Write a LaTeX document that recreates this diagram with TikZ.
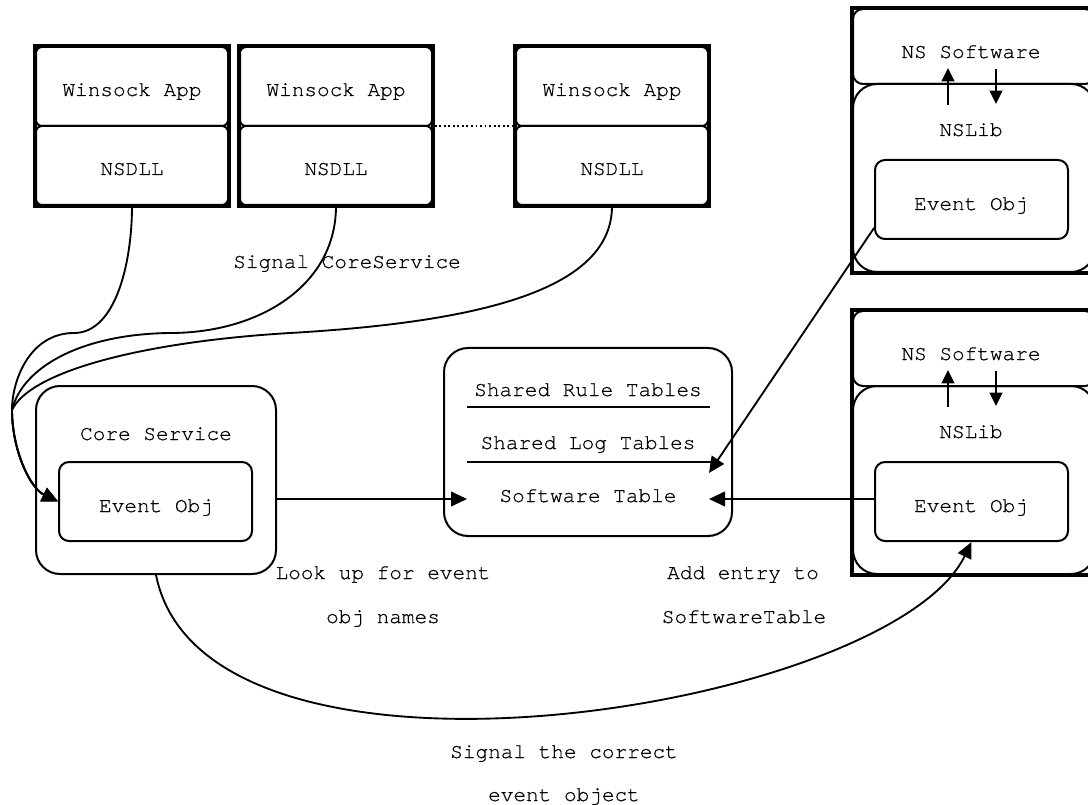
\documentclass[tikz,border=0pt]{standalone}
\usepackage{fontspec}
\setmainfont{texgyrecursor}[Extension=.otf,UprightFont=*-regular,BoldFont=*-bold,FakeBold=0.6]
\usetikzlibrary{arrows.meta,fit,calc}
\begin{document}
\begin{tikzpicture}[x=0.75pt,y=-0.75pt,
  every node/.style={font=\fontsize{15.8}{20}\selectfont},
  lbl/.style={anchor=base,inner sep=0},
  frame/.style={draw,line width=2.6pt,inner sep=0},
  sbox/.style={draw,line width=1.5pt,rounded corners=4.5pt,inner sep=0},
  ibox/.style={draw,line width=1.5pt,rounded corners=7.5pt,inner sep=0},
  bbox/.style={draw,line width=1.5pt,rounded corners=18pt,inner sep=0},
  conn/.style={line width=1.4pt},
  arr/.style={conn,-{Triangle[length=12pt,width=11pt]}},
  sarr/.style={conn,-{Triangle[length=10pt,width=9.5pt]}},
  rule/.style={line width=1.6pt}]
\useasboundingbox (0,0) rectangle (1088,805);
\clip (0,0) rectangle (1088,805);

% ---- Winsock application stacks
\foreach \i/\xl/\xr in {1/35/229,2/239/433,3/515/709}{
  \node[frame,fit={(\xl,46)(\xr,206)}] (s\i) {};
  \node[sbox,fit={(\xl+1,47)(\xr-1,126)}] (w\i) {};
  \node[sbox,fit={(\xl+1,126)(\xr-1,205)}] (d\i) {};
  \node[lbl] (wt\i) at ($(w\i.center)+(0,9.5)$) {Winsock App};
  \node[lbl] (dt\i) at ($(d\i.center)+(0,9.5)$) {NSDLL};
}
\draw[line width=1.4pt,dotted] (s2.east) -- (s3.west);

% ---- Core Service
\node[bbox,fit={(36,386)(276,574)}] (cs) {};
\node[lbl] (cst) at (156,440) {Core Service};
\node[ibox,fit={(59,462)(252,541)}] (ceo) {};
\node[lbl] (ceot) at (156,512) {Event Obj};

% ---- shared tables
\node[bbox,fit={(444,348)(732,536)}] (tab) {};
\node[lbl] (rt) at (588,396) {Shared Rule Tables};
\node[lbl] (lt) at (588,449) {Shared Log Tables};
\node[lbl] (swt) at (588,502) {Software Table};
\draw[rule] (467,407) -- (710,407);
\draw[rule] (467,462) -- (720,462);
\coordinate (inL) at (467,499);
\coordinate (inR) at (709,499);
\coordinate (inLog) at (709,473);

% ---- NS software groups
\foreach \j/\yo in {1/0,2/302}{
  \node[frame,fit={(852,8+\yo)(1100,273+\yo)}] (g\j) {};
  \node[ibox,fit={(853,9+\yo)(1095,84+\yo)}] (nsw\j) {};
  \node[bbox,fit={(853,84+\yo)(1095,272+\yo)}] (nsl\j) {};
  \node[lbl] (nswt\j) at (971,58+\yo) {NS Software};
  \node[lbl] (nslt\j) at (971,136+\yo) {NSLib};
  \node[ibox,fit={(875,160+\yo)(1068,239+\yo)}] (eo\j) {};
  \node[lbl] (eot\j) at (971,210+\yo) {Event Obj};
  \coordinate (up\j a) at (948,105+\yo);
  \coordinate (up\j b) at (948,68+\yo);
  \coordinate (dn\j a) at (996,69+\yo);
  \coordinate (dn\j b) at (996,104+\yo);
  \draw[sarr] (up\j a) -- (up\j b);
  \draw[sarr] (dn\j a) -- (dn\j b);
}

% ---- NSDLL signals into the Core Service event object
\coordinate (merge) at (12,410);
\draw[arr] (d1.south) .. controls (132,262) and (116,333) .. (74,333)
  .. controls (30,333) and (12,380) .. (merge)
  .. controls (12,450) and (30,488) .. (ceo.west);
\draw[arr] (d2.south) .. controls (336,285) and (260,333) .. (170,333)
  .. controls (80,334) and (22,368) .. (merge)
  .. controls (12,450) and (30,488) .. (ceo.west);
\draw[arr] (d3.south) .. controls (612,290) and (480,322) .. (290,333)
  .. controls (140,342) and (30,372) .. (merge)
  .. controls (12,450) and (30,488) .. (ceo.west);
\node[lbl] (sigcs) at (347,268) {Signal CoreService};

% ---- table access
\draw[arr] (cs.east |- inL) -- (inL);
\draw[arr] (eo2.west |- inR) -- (inR);
\draw[arr] ($(eo1.south west)+(0,-12)$) -- (inLog);

% ---- signalling the software's event object
\draw[arr] (cs.south) .. controls (205,820) and (890,710) .. (eo2.south);

% ---- annotations
\node[lbl] (look1) at (383,579) {Look up for event};
\node[lbl] (look2) at (383,623) {obj names};
\node[lbl] (add1) at (743,579) {Add entry to};
\node[lbl] (add2) at (744,623) {SoftwareTable};
\node[lbl] (sig1) at (564,758) {Signal the correct};
\node[lbl] (sig2) at (564,801) {event object};
\end{tikzpicture}
\end{document}
